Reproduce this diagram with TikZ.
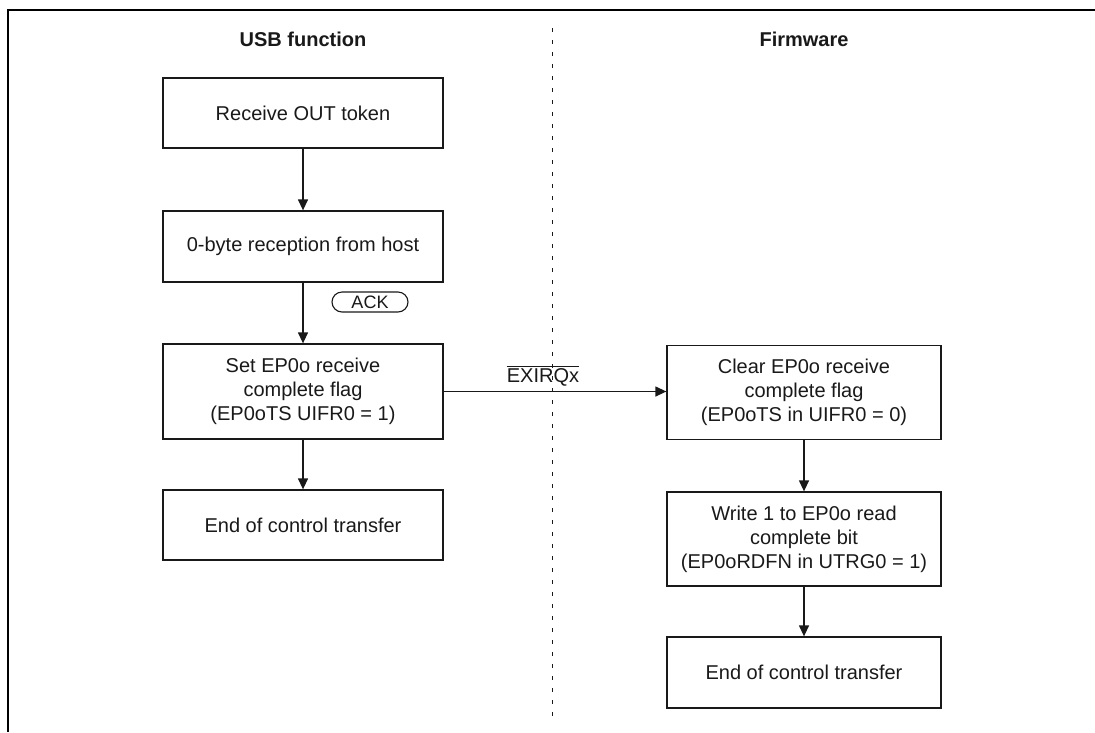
\documentclass[tikz,border=0pt]{standalone}
\usepackage{fontspec}
\setmainfont{Liberation Sans}
\usetikzlibrary{arrows.meta}
\begin{document}
\begin{tikzpicture}[x=1pt,y=-1pt,
  txt/.style={font=\fontsize{20}{24}\selectfont, text=black!90},
  box/.style={txt, draw=black!90, line width=1.3pt, align=center, inner sep=0pt},
  lbox/.style={box, minimum width=280pt},
  rbox/.style={box, minimum width=274pt},
  title/.style={font=\fontsize{20}{24}\selectfont\bfseries, text=black!90, inner sep=0pt, anchor=base},
  flow/.style={draw=black!90, line width=1.3pt, -{Triangle[length=11pt,width=10pt]}},
  divider/.style={draw=black!90, line width=1pt, dash pattern=on 4pt off 8pt},
  frame/.style={draw=black, line width=2.6pt},
  ack/.style={draw=black!90, line width=1.1pt, rounded corners=10pt, minimum width=76pt, minimum height=20pt, inner sep=0pt, font=\fontsize{18}{20}\selectfont, text=black!90}
]
\useasboundingbox (0,0) rectangle (1095,732);
% frame (top and left edges visible)
\coordinate (fbl) at (8,732);
\coordinate (ftl) at (8,10);
\coordinate (ftr) at (1095,10);
\draw[frame] (fbl) -- (ftl) -- (ftr);
% divider
\coordinate (dtop) at (552,28);
\coordinate (dbot) at (552,716);
\draw[divider] (dtop) -- (dbot);
% titles
\node[title] (t1) at (303,46) {USB function};
\node[title] (t2) at (804,46) {Firmware};
% left column
\node[lbox, minimum height=70pt] (b1) at (303,113) {Receive OUT token};
\node[lbox, minimum height=71pt] (b2) at (303,246.5) {0-byte reception from host};
\node[lbox, minimum height=95pt] (b3) at (303,391.5) {Set EP0o receive\\complete flag\\(EP0oTS UIFR0 = 1)};
\node[lbox, minimum height=70pt] (b4) at (303,525) {End of control transfer};
% right column
\node[rbox, minimum height=94pt] (f1) at (804,392.5) {Clear EP0o receive\\complete flag\\(EP0oTS in UIFR0 = 0)};
\node[rbox, minimum height=94pt] (f2) at (804,539) {Write 1 to EP0o read\\complete bit\\(EP0oRDFN in UTRG0 = 1)};
\node[rbox, minimum height=71pt] (f3) at (804,672.5) {End of control transfer};
% ACK
\node[ack] (ack) at (370,302) {ACK};
% connectors
\draw[flow] (b1) -- (b2);
\draw[flow] (b2) -- (b3);
\draw[flow] (b3) -- (b4);
\draw[flow] (b3.east) -- (b3.east -| f1.west);
\draw[flow] (f1) -- (f2);
\draw[flow] (f2) -- (f3);
\node[txt, anchor=south, inner sep=0pt] (irq) at (543,386) {$\overline{\mbox{EXIRQx}}$};
\end{tikzpicture}
\end{document}
